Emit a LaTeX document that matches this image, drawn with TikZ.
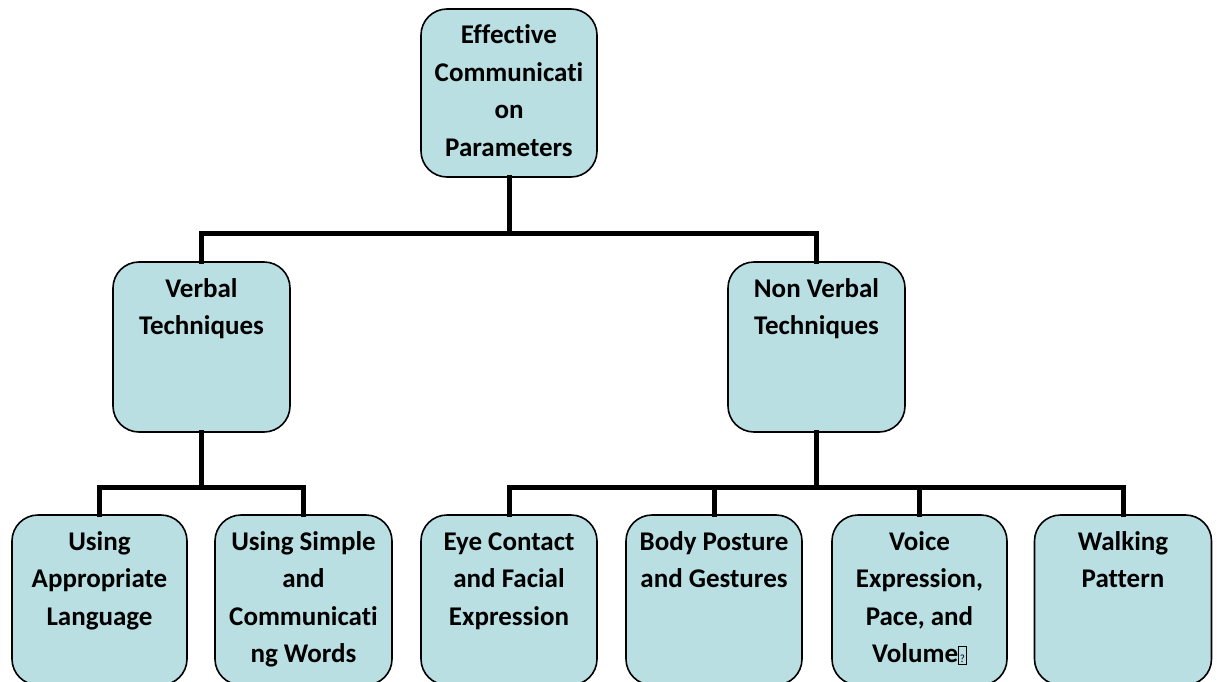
\documentclass[tikz,border=0pt]{standalone}
\usepackage{fontspec}
\setmainfont{Carlito}[Ligatures=NoCommon]
\definecolor{boxfill}{HTML}{B9DFE3}
\newcommand{\boxtext}[3]{\parbox[t][#2][t]{#1}{\centering\bfseries\fontsize{27}{37.5}\selectfont\rule{0pt}{35pt}#3}}
\newcommand{\qbox}{\raisebox{0pt}{\setlength\fboxsep{1pt}\setlength\fboxrule{0.8pt}\fbox{\rule{0pt}{15pt}\fontsize{11}{11}\selectfont\mdseries ?}}}
\begin{document}
\begin{tikzpicture}[x=1pt,y=-1pt,
  box/.style={draw=black, line width=1.6pt, fill=boxfill, rounded corners=26pt, inner sep=0pt},
  conn/.style={draw=black, line width=5pt, line cap=rect}]
\useasboundingbox (0,0) rectangle (1218,682);
\clip (0,0) rectangle (1218,682);
% top
\node[box] (top) at (509,93) {\boxtext{176pt}{168pt}{Effective\\Communicati\\on\\Parameters}};
% level 2
\node[box] (verbal) at (201.5,347) {\boxtext{177pt}{170pt}{Verbal\\Techniques}};
\node[box] (nonverbal) at (816.5,347) {\boxtext{177pt}{170pt}{Non Verbal\\Techniques}};
% level 3
\node[box] (b1) at (99.5,600) {\boxtext{175pt}{170pt}{Using\\Appropriate\\Language}};
\node[box] (b2) at (303.5,600) {\boxtext{177pt}{170pt}{Using Simple\\and\\Communicati\\ng Words}};
\node[box] (b3) at (509,600) {\boxtext{176pt}{170pt}{Eye Contact\\and Facial\\Expression}};
\node[box] (b4) at (714,600) {\boxtext{176pt}{170pt}{Body Posture\\and Gestures}};
\node[box] (b5) at (919.5,600) {\boxtext{175pt}{170pt}{Voice\\Expression,\\Pace, and\\Volume\qbox}};
\node[box] (b6) at (1123,600) {\boxtext{177pt}{170pt}{Walking\\Pattern}};
% bus coordinates
\coordinate (j1) at (509,233);
\coordinate (j2) at (201.5,487.5);
\coordinate (j3) at (816.5,487.5);
% connectors
\draw[conn] (top.south) -- (j1);
\draw[conn] (verbal.north) |- (j1) -| (nonverbal.north);
\draw[conn] (verbal.south) -- (j2);
\draw[conn] (b1.north) |- (j2) -| (b2.north);
\draw[conn] (nonverbal.south) -- (j3);
\draw[conn] (b3.north) |- (j3) -| (b6.north);
\draw[conn] (b4.north) -- (b4.north |- j3);
\draw[conn] (b5.north) -- (b5.north |- j3);
\end{tikzpicture}
\end{document}
